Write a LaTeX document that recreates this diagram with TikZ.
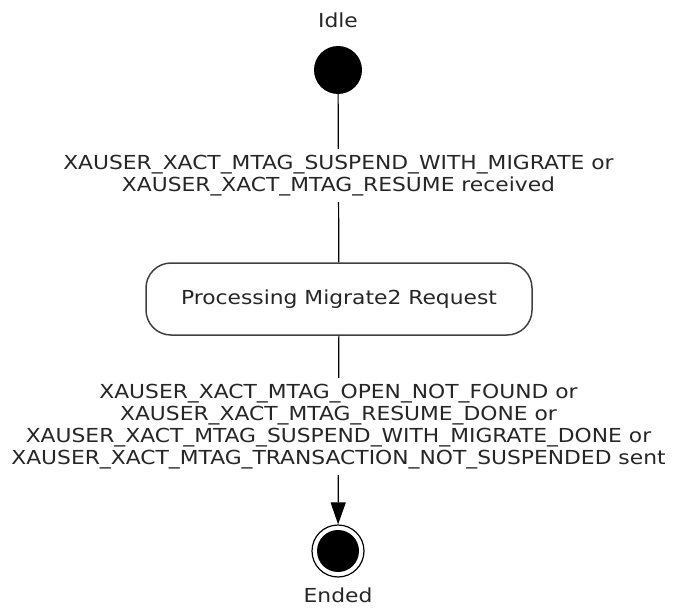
\documentclass[tikz,border=0pt]{standalone}
\usepackage{fontspec}
\setmainfont{DejaVu Sans}[FakeStretch=1.13]
\usetikzlibrary{arrows.meta}
\begin{document}
\begin{tikzpicture}[x=1pt,y=1pt,
  lbl/.style={font=\fontsize{19.3}{22}\selectfont, text=black!85, align=center, inner sep=0pt},
  trans/.style={lbl, fill=white, inner ysep=6pt, inner xsep=2pt},
  conn/.style={draw=black, line width=1.2pt},
  initial/.style={circle, fill=black, minimum size=48pt, inner sep=0pt},
  finalring/.style={circle, draw=black, line width=1.2pt, minimum size=52pt, inner sep=0pt},
  finaldot/.style={circle, fill=black, minimum size=42pt, inner sep=0pt},
  statebox/.style={lbl, rounded corners=25pt, draw=black!75, line width=1.5pt, minimum width=386pt, minimum height=72pt}]
\useasboundingbox (0,0) rectangle (678,-610);
\node[lbl] (idleL) at (338,-20) {Idle};
\node[initial] (start) at (338,-70) {};
\node[statebox] (proc) at (339,-299) {Processing Migrate2 Request};
\node[finalring] (end) at (338,-551) {};
\node[finaldot] (endin) at (338,-551) {};
\node[lbl] (endL) at (338,-595) {Ended};
\draw[conn] (start) -- node[trans, pos=0.485] (lab1)
  {XAUSER\_XACT\_MTAG\_SUSPEND\_WITH\_MIGRATE or\\XAUSER\_XACT\_MTAG\_RESUME received} (proc);
\draw[conn, -{Triangle[length=22pt,width=15pt]}] (proc) -- node[trans, pos=0.479] (lab2)
  {XAUSER\_XACT\_MTAG\_OPEN\_NOT\_FOUND or\\XAUSER\_XACT\_MTAG\_RESUME\_DONE or\\XAUSER\_XACT\_MTAG\_SUSPEND\_WITH\_MIGRATE\_DONE or\\XAUSER\_XACT\_MTAG\_TRANSACTION\_NOT\_SUSPENDED sent} (end);
\end{tikzpicture}
\end{document}
